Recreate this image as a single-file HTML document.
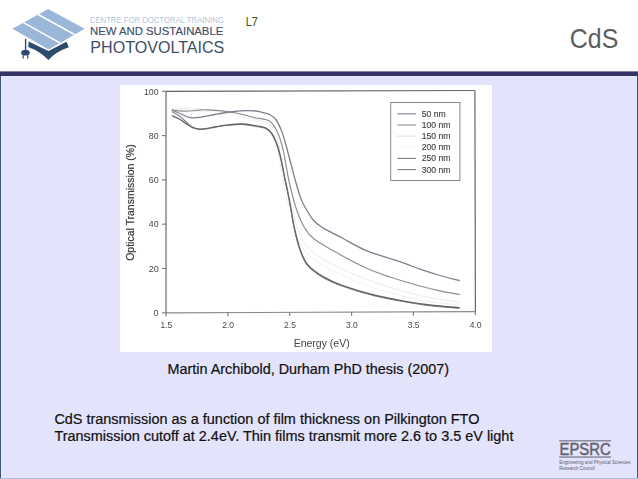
<!DOCTYPE html>
<html><head><meta charset="utf-8"><style>
html,body{margin:0;padding:0;}
body{width:638px;height:479px;overflow:hidden;background:#fff;position:relative;font-family:"Liberation Sans", sans-serif;}
svg{position:absolute;left:0;top:0;}
text{font-family:"Liberation Sans", sans-serif;}
</style></head><body>
<svg width="638" height="479" viewBox="0 0 638 479">
<defs><filter id="bl" x="-5%" y="-5%" width="110%" height="110%"><feGaussianBlur stdDeviation="0.3"/></filter></defs>
<rect x="0" y="0" width="638" height="479" fill="#ffffff"/>
<!-- body -->
<rect x="0" y="76" width="638" height="403" fill="#e3e3fb"/>
<rect x="0" y="76" width="638" height="1" fill="#eaeafd"/>
<rect x="0" y="71.4" width="638" height="4.6" fill="#333366"/>
<rect x="0" y="76" width="1" height="403" fill="#3f5272"/>
<rect x="1" y="76" width="1" height="403" fill="#dfeeff"/>
<rect x="637" y="76" width="1" height="403" fill="#3f5272"/>
<rect x="636" y="76" width="1" height="403" fill="#dfeeff"/>
<rect x="0" y="478" width="638" height="1" fill="#b0bcdc"/>

<!-- logo -->
<g>
<polygon points="12.4,28.8 48.1,9.0 84.7,28.8 48.8,49.5" fill="#9ab7da"/>
<line x1="23.4" y1="22.7" x2="60.0" y2="42.9" stroke="#fff" stroke-width="1.5"/>
<line x1="38.2" y1="14.5" x2="74.5" y2="34.5" stroke="#fff" stroke-width="1.5"/>
<path d="M28.6,41.5 L48.5,50.9 L66.4,41.8 L68.8,47.2 Q56,51.5 48.4,60 Q40.5,51.5 28.3,46.9 Z" fill="#2c4a6c"/>
<rect x="24.9" y="38.8" width="1.4" height="12" fill="#2c4a6c"/>
<rect x="21.2" y="50" width="8.5" height="5.6" rx="3" fill="#2c4a6c"/>
<rect x="22.6" y="55.5" width="1.2" height="3" fill="#2c4a6c"/>
<rect x="27.2" y="55.5" width="1.2" height="3" fill="#2c4a6c"/>
</g>
<text x="89.8" y="22.6" font-size="8.3" fill="#b2c5dc" textLength="134" lengthAdjust="spacingAndGlyphs">CENTRE FOR DOCTORAL TRAINING</text>
<text x="90" y="34.9" font-size="10.4" fill="#3f4f68" stroke="#3f4f68" stroke-width="0.15" textLength="133.3" lengthAdjust="spacingAndGlyphs">NEW AND SUSTAINABLE</text>
<text x="90.3" y="52.9" font-size="16.4" fill="#3d4d66" textLength="134" lengthAdjust="spacingAndGlyphs">PHOTOVOLTAICS</text>
<text x="245.8" y="26.4" font-size="12.2" fill="#33501c" textLength="12.1" lengthAdjust="spacingAndGlyphs">L7</text>
<text x="569.8" y="48.0" font-size="27.6" fill="#5e5e5e" textLength="48.5" lengthAdjust="spacingAndGlyphs">CdS</text>
<rect x="120" y="85" width="372" height="267" fill="#ffffff"/><g filter="url(#bl)">
<line x1="166.0" y1="91.3" x2="474.9" y2="90.5" stroke="#666" stroke-width="1.2"/>
<line x1="474.9" y1="90.5" x2="475.4" y2="311.7" stroke="#666" stroke-width="1.2"/>
<line x1="475.4" y1="311.7" x2="166.0" y2="312.8" stroke="#888" stroke-width="1.2"/>
<line x1="166.0" y1="91.3" x2="166.0" y2="312.8" stroke="#6a6a6a" stroke-width="1.2"/>
<line x1="162.0" y1="312.8" x2="166.0" y2="312.8" stroke="#777" stroke-width="1.1"/>
<text x="158.6" y="316.0" text-anchor="end" font-size="9.1" fill="#4a4a4a" textLength="5.0" lengthAdjust="spacingAndGlyphs">0</text>
<line x1="162.0" y1="268.5" x2="166.0" y2="268.5" stroke="#777" stroke-width="1.1"/>
<text x="158.6" y="271.7" text-anchor="end" font-size="9.1" fill="#4a4a4a" textLength="9.9" lengthAdjust="spacingAndGlyphs">20</text>
<line x1="162.0" y1="224.2" x2="166.0" y2="224.2" stroke="#777" stroke-width="1.1"/>
<text x="158.6" y="227.4" text-anchor="end" font-size="9.1" fill="#4a4a4a" textLength="9.9" lengthAdjust="spacingAndGlyphs">40</text>
<line x1="162.0" y1="179.9" x2="166.0" y2="179.9" stroke="#777" stroke-width="1.1"/>
<text x="158.6" y="183.1" text-anchor="end" font-size="9.1" fill="#4a4a4a" textLength="9.9" lengthAdjust="spacingAndGlyphs">60</text>
<line x1="162.0" y1="135.6" x2="166.0" y2="135.6" stroke="#777" stroke-width="1.1"/>
<text x="158.6" y="138.8" text-anchor="end" font-size="9.1" fill="#4a4a4a" textLength="9.9" lengthAdjust="spacingAndGlyphs">80</text>
<line x1="162.0" y1="91.3" x2="166.0" y2="91.3" stroke="#777" stroke-width="1.1"/>
<text x="158.6" y="94.5" text-anchor="end" font-size="9.1" fill="#4a4a4a" textLength="14.6" lengthAdjust="spacingAndGlyphs">100</text>
<line x1="166.0" y1="312.8" x2="166.0" y2="316.4" stroke="#777" stroke-width="1.1"/>
<text x="166.3" y="328.4" text-anchor="middle" font-size="9.1" fill="#4a4a4a" textLength="11.8" lengthAdjust="spacingAndGlyphs">1.5</text>
<line x1="227.9" y1="312.6" x2="227.9" y2="316.2" stroke="#777" stroke-width="1.1"/>
<text x="228.2" y="328.4" text-anchor="middle" font-size="9.1" fill="#4a4a4a" textLength="11.8" lengthAdjust="spacingAndGlyphs">2.0</text>
<line x1="289.7" y1="312.4" x2="289.7" y2="316.0" stroke="#777" stroke-width="1.1"/>
<text x="290.0" y="328.4" text-anchor="middle" font-size="9.1" fill="#4a4a4a" textLength="11.8" lengthAdjust="spacingAndGlyphs">2.5</text>
<line x1="351.6" y1="312.1" x2="351.6" y2="315.7" stroke="#777" stroke-width="1.1"/>
<text x="351.9" y="328.4" text-anchor="middle" font-size="9.1" fill="#4a4a4a" textLength="11.8" lengthAdjust="spacingAndGlyphs">3.0</text>
<line x1="413.4" y1="311.9" x2="413.4" y2="315.5" stroke="#777" stroke-width="1.1"/>
<text x="413.7" y="328.4" text-anchor="middle" font-size="9.1" fill="#4a4a4a" textLength="11.8" lengthAdjust="spacingAndGlyphs">3.5</text>
<line x1="475.3" y1="311.7" x2="475.3" y2="315.3" stroke="#777" stroke-width="1.1"/>
<text x="475.6" y="328.4" text-anchor="middle" font-size="9.1" fill="#4a4a4a" textLength="11.8" lengthAdjust="spacingAndGlyphs">4.0</text>
<text x="321.7" y="346.7" text-anchor="middle" font-size="10" fill="#444" textLength="56" lengthAdjust="spacingAndGlyphs">Energy (eV)</text>
<text transform="translate(134.4,202.6) rotate(-90)" x="0" y="0" text-anchor="middle" font-size="10.2" fill="#3a3a3a" stroke="#3a3a3a" stroke-width="0.2" textLength="116.5" lengthAdjust="spacingAndGlyphs">Optical Transmission (%)</text>
<rect x="390.7" y="102.5" width="69.2" height="78" fill="none" stroke="#7a7a7a" stroke-width="0.9"/>
<line x1="397.3" y1="113.8" x2="416" y2="113.8" stroke="#7c7f8e" stroke-width="1.1"/>
<text x="421.7" y="116.8" font-size="8.6" fill="#444" stroke="#444" stroke-width="0.15">50 nm</text>
<line x1="397.3" y1="125.0" x2="416" y2="125.0" stroke="#9a909c" stroke-width="1.1"/>
<text x="421.7" y="128.0" font-size="8.6" fill="#444" stroke="#444" stroke-width="0.15">100 nm</text>
<line x1="397.3" y1="136.1" x2="416" y2="136.1" stroke="#d6e4e6" stroke-width="1.1"/>
<text x="421.7" y="139.1" font-size="8.6" fill="#444" stroke="#444" stroke-width="0.15">150 nm</text>
<line x1="397.3" y1="147.2" x2="416" y2="147.2" stroke="#f4f4ee" stroke-width="1.1"/>
<text x="421.7" y="150.2" font-size="8.6" fill="#444" stroke="#444" stroke-width="0.15">200 nm</text>
<line x1="397.3" y1="158.4" x2="416" y2="158.4" stroke="#7e7e7e" stroke-width="1.1"/>
<text x="421.7" y="161.4" font-size="8.6" fill="#444" stroke="#444" stroke-width="0.15">250 nm</text>
<line x1="397.3" y1="169.6" x2="416" y2="169.6" stroke="#848484" stroke-width="1.1"/>
<text x="421.7" y="172.6" font-size="8.6" fill="#444" stroke="#444" stroke-width="0.15">300 nm</text>
<path d="M171.8,109.0 C174.0,109.1 180.3,109.2 185.0,109.5 C189.7,109.8 192.5,110.4 200.0,111.0 C207.5,111.6 220.8,111.3 230.0,113.0 C239.2,114.7 248.8,119.0 255.0,121.0 C261.2,123.0 264.0,123.0 267.0,125.0 C270.0,127.0 271.2,128.8 273.0,133.0 C274.8,137.2 276.3,142.2 278.0,150.0 C279.7,157.8 280.7,168.7 283.0,180.0 C285.3,191.3 289.2,207.5 292.0,218.0 C294.8,228.5 296.5,236.2 300.0,243.0 C303.5,249.8 306.2,253.8 313.0,259.0 C319.8,264.2 330.8,269.7 341.0,274.5 C351.2,279.3 360.8,283.8 374.0,288.0 C387.2,292.2 405.7,297.2 420.0,300.0 C434.3,302.8 453.1,304.2 459.7,305.0" fill="none" stroke="#eef0e4" stroke-width="0.9"/>
<path d="M171.8,108.5 C174.0,108.4 180.3,107.9 185.0,108.0 C189.7,108.1 192.5,108.4 200.0,109.0 C207.5,109.6 220.8,109.8 230.0,111.5 C239.2,113.2 248.8,117.1 255.0,119.0 C261.2,120.9 263.8,121.2 267.0,123.0 C270.2,124.8 272.0,126.3 274.0,130.0 C276.0,133.7 277.3,137.5 279.0,145.0 C280.7,152.5 281.8,164.3 284.0,175.0 C286.2,185.7 289.8,199.0 292.5,209.0 C295.2,219.0 296.6,227.8 300.0,235.0 C303.4,242.2 306.3,246.9 313.2,252.5 C320.1,258.1 331.2,263.6 341.3,268.5 C351.4,273.4 360.9,277.5 374.0,282.0 C387.1,286.5 405.7,292.1 420.0,295.5 C434.3,298.9 453.1,301.3 459.7,302.5" fill="none" stroke="#e0ecee" stroke-width="0.9"/>
<path d="M171.8,110.0 C174.3,110.2 182.7,111.2 186.8,111.2 C190.9,111.2 192.7,110.5 196.2,110.3 C199.7,110.1 202.4,109.5 208.0,109.8 C213.6,110.1 223.8,111.1 230.0,112.0 C236.2,112.9 240.7,114.0 245.0,115.0 C249.3,116.0 253.2,117.4 256.0,118.0 C258.8,118.6 259.8,118.3 262.0,118.8 C264.2,119.3 267.4,119.7 269.5,121.0 C271.6,122.3 273.0,124.4 274.5,126.7 C276.0,129.1 277.6,132.4 278.7,135.1 C279.8,137.8 280.5,140.2 281.3,143.0 C282.1,145.8 282.9,148.7 283.6,152.0 C284.3,155.3 284.9,159.0 285.6,163.0 C286.3,167.0 287.2,171.8 288.0,176.0 C288.8,180.2 289.2,182.5 290.6,188.0 C292.0,193.5 294.1,202.4 296.3,208.8 C298.5,215.2 301.0,221.6 303.8,226.5 C306.6,231.4 308.5,234.4 313.2,238.3 C317.9,242.2 323.4,245.2 332.0,250.1 C340.6,255.0 355.3,263.0 365.0,267.5 C374.7,272.0 380.8,273.9 390.0,277.0 C399.2,280.1 411.7,283.7 420.0,286.0 C428.3,288.3 433.4,289.4 440.0,290.8 C446.6,292.2 456.4,293.9 459.7,294.5" fill="none" stroke="#938d95" stroke-width="1.2"/>
<path d="M171.8,110.0 C173.2,110.6 177.0,112.2 180.0,113.5 C183.0,114.8 186.7,117.0 190.0,117.6 C193.3,118.2 195.8,117.8 200.0,117.3 C204.2,116.8 210.0,115.4 215.0,114.5 C220.0,113.6 225.0,112.6 230.0,112.0 C235.0,111.4 240.7,110.9 245.0,110.7 C249.3,110.5 253.2,110.7 256.0,111.0 C258.8,111.3 259.6,111.7 262.0,112.4 C264.4,113.1 268.0,113.7 270.4,115.0 C272.8,116.3 274.4,117.5 276.2,120.0 C278.0,122.5 279.8,126.7 281.2,130.0 C282.6,133.3 283.6,136.7 284.6,140.0 C285.6,143.3 286.2,146.0 287.3,150.0 C288.4,154.0 289.6,158.8 291.0,164.0 C292.4,169.2 294.0,175.7 295.5,181.0 C297.0,186.3 298.6,192.0 300.0,196.0 C301.4,200.0 301.6,201.0 303.8,205.0 C306.0,209.0 310.1,216.2 313.2,220.0 C316.3,223.8 317.9,224.7 322.6,227.6 C327.3,230.5 334.2,233.8 341.3,237.5 C348.4,241.2 356.9,246.6 365.0,250.1 C373.1,253.6 383.3,256.2 390.0,258.5 C396.7,260.8 400.4,261.9 405.4,263.7 C410.4,265.5 414.2,267.2 420.0,269.2 C425.8,271.2 433.4,273.6 440.0,275.5 C446.6,277.4 456.4,279.8 459.7,280.7" fill="none" stroke="#7c7e8e" stroke-width="1.3"/>
<path d="M171.8,111.5 C173.2,112.3 177.3,114.5 180.0,116.5 C182.7,118.5 185.7,121.6 188.0,123.5 C190.3,125.4 192.0,126.9 194.0,127.8 C196.0,128.7 197.8,128.9 200.0,129.0 C202.2,129.1 204.5,128.7 207.0,128.4 C209.5,128.1 211.5,127.5 215.0,127.0 C218.5,126.5 223.6,125.6 228.2,125.2 C232.8,124.8 237.8,124.2 242.3,124.4 C246.8,124.6 251.2,125.6 255.0,126.2 C258.8,126.8 262.3,127.0 265.0,128.2 C267.7,129.4 269.4,130.8 271.3,133.3 C273.2,135.9 274.8,139.7 276.3,143.5 C277.8,147.3 279.1,151.9 280.1,156.0 C281.2,160.1 281.8,163.8 282.6,168.0 C283.5,172.2 284.3,176.8 285.2,181.0 C286.1,185.2 286.9,188.3 287.8,193.0 C288.7,197.7 289.7,203.0 290.8,209.0 C291.9,215.0 292.9,222.3 294.4,229.2 C295.9,236.1 297.8,244.2 300.0,250.3 C302.2,256.4 303.7,261.0 307.5,265.5 C311.3,270.0 316.7,273.7 322.6,277.2 C328.5,280.7 334.1,283.2 342.7,286.3 C351.3,289.4 363.6,293.2 374.0,295.8 C384.4,298.4 396.1,300.3 405.4,302.0 C414.7,303.7 420.9,304.8 430.0,305.8 C439.1,306.9 454.8,307.9 459.7,308.3" fill="none" stroke="#858585" stroke-width="1.1"/>
<path d="M171.8,115.5 C173.2,116.2 177.3,117.9 180.0,119.5 C182.7,121.1 185.7,123.5 188.0,125.0 C190.3,126.5 192.0,127.5 194.0,128.2 C196.0,128.9 197.8,129.2 200.0,129.3 C202.2,129.4 204.5,129.0 207.0,128.6 C209.5,128.2 211.5,127.6 215.0,127.0 C218.5,126.4 223.6,125.4 228.2,124.9 C232.8,124.4 237.8,123.9 242.3,124.0 C246.8,124.1 251.2,125.1 255.0,125.7 C258.8,126.3 262.3,126.4 265.0,127.6 C267.7,128.8 269.4,130.1 271.3,132.6 C273.2,135.1 274.8,138.8 276.3,142.6 C277.8,146.3 279.1,151.0 280.1,155.1 C281.2,159.2 281.8,162.8 282.6,167.0 C283.5,171.2 284.3,175.8 285.2,180.0 C286.1,184.2 286.9,187.3 287.8,192.0 C288.7,196.7 289.7,202.0 290.8,208.0 C291.9,214.0 292.9,221.2 294.4,228.0 C295.9,234.8 297.8,242.9 300.0,249.0 C302.2,255.1 303.7,259.9 307.5,264.5 C311.3,269.1 316.7,272.9 322.6,276.4 C328.5,279.9 334.1,282.5 342.7,285.6 C351.3,288.7 363.6,292.4 374.0,295.0 C384.4,297.6 396.1,299.6 405.4,301.3 C414.7,303.0 420.9,303.9 430.0,305.0 C439.1,306.1 454.8,307.2 459.7,307.7" fill="none" stroke="#666666" stroke-width="1.3"/>
</g>
<text x="167.5" y="374" font-size="14.1" fill="#111" stroke="#111" stroke-width="0.2" textLength="281.5" lengthAdjust="spacingAndGlyphs">Martin Archibold, Durham PhD thesis (2007)</text>
<text x="54.4" y="423.8" font-size="13.8" fill="#111" stroke="#111" stroke-width="0.2" textLength="425" lengthAdjust="spacingAndGlyphs">CdS transmission as a function of film thickness on Pilkington FTO</text>
<text x="54.4" y="441.1" font-size="13.8" fill="#111" stroke="#111" stroke-width="0.2" textLength="459" lengthAdjust="spacingAndGlyphs">Transmission cutoff at 2.4eV. Thin films transmit more 2.6 to 3.5 eV light</text>
<!-- EPSRC -->
<rect x="559.2" y="440.3" width="51.8" height="1.1" fill="#6a6a78"/>
<rect x="559.2" y="456.5" width="51.8" height="1.1" fill="#6a6a78"/>
<text x="559.5" y="454.6" font-size="15.6" fill="#62626e" stroke="#62626e" stroke-width="0.45" textLength="51.2" lengthAdjust="spacingAndGlyphs">EPSRC</text>
<text x="559.2" y="464.4" font-size="5" fill="#606068" textLength="71.4" lengthAdjust="spacingAndGlyphs">Engineering and Physical Sciences</text>
<text x="559.2" y="469.6" font-size="5" fill="#606068" textLength="35.5" lengthAdjust="spacingAndGlyphs">Research Council</text>
</svg>
</body></html>
